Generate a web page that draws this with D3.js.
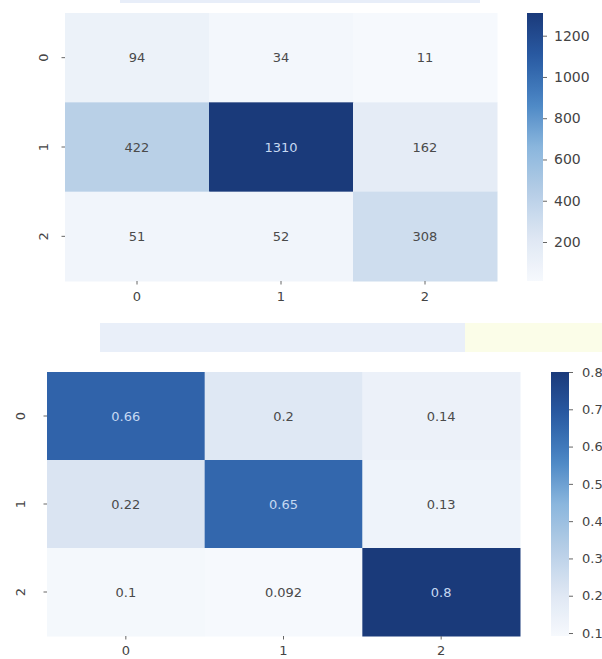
<!DOCTYPE html>
<html>
<head>
<meta charset="utf-8">
<script src="https://cdn.jsdelivr.net/npm/d3@7"></script>
<style>
  html, body { margin: 0; padding: 0; background: #ffffff; }
  svg { display: block; }
  text { font-family: "DejaVu Sans", sans-serif; }
</style>
</head>
<body>
<svg id="chart" width="602" height="659"></svg>
<script>
// ---- data ----
const rowLabels = ["0", "1", "2"];
const colLabels = ["0", "1", "2"];
const countRow0 = [94, 34, 11];
const countRow1 = [422, 1310, 162];
const countRow2 = [51, 52, 308];
const normRow0 = [0.66, 0.2, 0.14];
const normRow1 = [0.22, 0.65, 0.13];
const normRow2 = [0.1, 0.092, 0.8];
const countTicks = [200, 400, 600, 800, 1000, 1200];
const normTicks = [0.1, 0.2, 0.3, 0.4, 0.5, 0.6, 0.7, 0.8];

// colour ramp (Blues, as it appears in the reference)
const rampColors = ["#f6f9fd", "#dde6f3", "#b5cde6", "#8ab6dd", "#4a86c4", "#2a5ba4", "#1a3a7a"];
const ramp = d3.piecewise(d3.interpolateRgb, rampColors);

const svg = d3.select("#chart");

// faint background strips (page artefacts in the reference)
const bg = svg.append("g");
bg.append("rect").attr("x", 100).attr("y", 323).attr("width", 365).attr("height", 29).attr("fill", "#e9eff9");
bg.append("rect").attr("x", 465).attr("y", 323).attr("width", 137).attr("height", 29).attr("fill", "#fbfde8");
bg.append("rect").attr("x", 120).attr("y", 0).attr("width", 360).attr("height", 3).attr("fill", "#e8eef9");

function heatmap(cfg) {
  const rows = cfg.rows;
  const vals = [];
  rows.forEach((r, i) => r.forEach((v, j) => vals.push({ r: i, c: j, v: v })));
  const vmin = d3.min(vals, d => d.v), vmax = d3.max(vals, d => d.v);
  const color = d3.scaleSequential(ramp).domain([vmin, vmax]);

  const x = d3.scaleBand().domain(colLabels).range([cfg.x0, cfg.x1]);
  const y = d3.scaleBand().domain(rowLabels).range([cfg.y0, cfg.y1]);

  const g = svg.append("g");
  g.selectAll("rect.cell").data(vals).join("rect")
    .attr("class", "cell")
    .attr("x", d => x(colLabels[d.c]))
    .attr("y", d => y(rowLabels[d.r]))
    .attr("width", x.bandwidth() + 0.5)
    .attr("height", y.bandwidth() + 0.5)
    .attr("fill", d => color(d.v));

  g.selectAll("text.ann").data(vals).join("text")
    .attr("class", "ann")
    .attr("x", d => x(colLabels[d.c]) + x.bandwidth() / 2)
    .attr("y", d => y(rowLabels[d.r]) + y.bandwidth() / 2)
    .attr("text-anchor", "middle")
    .attr("dominant-baseline", "central")
    .attr("font-size", cfg.annSize)
    .attr("fill", d => {
      const c = d3.rgb(color(d.v));
      const lum = 0.2126 * c.r + 0.7152 * c.g + 0.0722 * c.b;
      return lum < 110 ? "#c6d9f2" : "#4a4a4a";
    })
    .text(d => cfg.fmt(d.v));

  // x axis
  const xa = g.append("g").attr("transform", `translate(0,${cfg.y1})`)
    .call(d3.axisBottom(x).tickSize(3.5).tickPadding(cfg.xpad));
  xa.select(".domain").remove();
  xa.selectAll("line").attr("stroke", "#666");
  xa.selectAll("text").attr("font-size", cfg.tickSize).attr("fill", "#444").attr("font-family", "DejaVu Sans");

  // y axis (rotated labels)
  const ya = g.append("g").attr("transform", `translate(${cfg.x0},0)`)
    .call(d3.axisLeft(y).tickSize(3.5).tickPadding(4));
  ya.select(".domain").remove();
  ya.selectAll("line").attr("stroke", "#666");
  ya.selectAll("text")
    .attr("font-size", cfg.tickSize).attr("fill", "#444").attr("font-family", "DejaVu Sans")
    .attr("text-anchor", "middle")
    .attr("dy", null)
    .attr("x", null)
    .attr("transform", `translate(${-cfg.ylabOff},0) rotate(-90)`)
    .attr("dominant-baseline", "central");

  // colorbar
  const gid = cfg.id + "grad";
  const grad = svg.append("defs").append("linearGradient")
    .attr("id", gid).attr("x1", 0).attr("y1", 1).attr("x2", 0).attr("y2", 0);
  d3.range(0, 1.0001, 0.05).forEach(t => {
    grad.append("stop").attr("offset", t).attr("stop-color", ramp(t));
  });
  g.append("rect").attr("x", cfg.cbx).attr("y", cfg.y0).attr("width", cfg.cbw)
    .attr("height", cfg.y1 - cfg.y0).attr("fill", `url(#${gid})`);
  const cy = d3.scaleLinear().domain([vmin, vmax]).range([cfg.y1, cfg.y0]);
  const ca = g.append("g").attr("transform", `translate(${cfg.cbx + cfg.cbw},0)`)
    .call(d3.axisRight(cy).tickValues(cfg.ticks).tickSize(4).tickPadding(cfg.cbpad).tickFormat(cfg.tickFmt));
  ca.select(".domain").remove();
  ca.selectAll("line").attr("stroke", "#666");
  ca.selectAll("text").attr("font-size", cfg.cbTickSize).attr("fill", "#444").attr("font-family", "DejaVu Sans");
}

heatmap({
  id: "top", rows: [countRow0, countRow1, countRow2],
  x0: 65, x1: 497, y0: 13, y1: 281,
  cbx: 527, cbw: 16, cbpad: 7, xpad: 7,
  annSize: 13, tickSize: 13, cbTickSize: 14, ylabOff: 22,
  fmt: d => String(d), ticks: countTicks, tickFmt: d3.format("d")
});

heatmap({
  id: "bot", rows: [normRow0, normRow1, normRow2],
  x0: 47, x1: 520, y0: 372, y1: 636,
  cbx: 551, cbw: 18, cbpad: 9, xpad: 6,
  annSize: 13, tickSize: 13, cbTickSize: 13, ylabOff: 27,
  fmt: d => String(d), ticks: normTicks, tickFmt: d3.format(".1f")
});
</script>
</body>
</html>
